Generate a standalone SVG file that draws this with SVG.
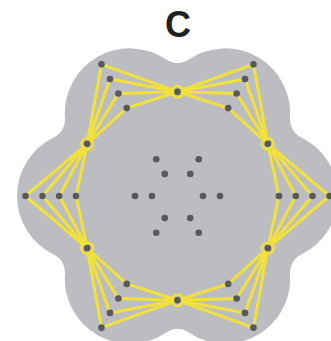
<svg xmlns="http://www.w3.org/2000/svg" width="331" height="341" viewBox="0 0 331 341">
<style>
.bg{fill:#BCBDC0}
.ln{fill:none;stroke:#F2E03B;stroke-width:3;stroke-linejoin:round}
.dot{fill:#58595B}
.ring{fill:none;stroke:#F2E03B;stroke-width:2.4}
.title{font-family:"Liberation Sans",Arial,sans-serif;font-weight:bold;font-size:36px;fill:#231F20}
</style>
<defs>
<circle id="d" r="3.3" class="dot"/>
<g id="hub"><circle r="5.8" class="ring"/><circle r="3.3" class="dot"/></g>
</defs>
<text class="title" x="178" y="36.5" text-anchor="middle">C</text>
<path id="shape" class="bg" d="M301.27,254.51 A65,65 0 0 0 301.27,137.49 A20,20 0 0 1 290.05,118.06 A65,65 0 0 0 188.72,59.56 A20,20 0 0 1 166.28,59.56 A65,65 0 0 0 64.95,118.06 A20,20 0 0 1 53.73,137.49 A65,65 0 0 0 53.73,254.51 A20,20 0 0 1 64.95,273.94 A65,65 0 0 0 166.28,332.44 A20,20 0 0 1 188.72,332.44 A65,65 0 0 0 290.05,273.94 A20,20 0 0 1 301.27,254.51 Z"/>
<g id="connectors">
<path class="ln" d="M329.5,196 L267.83,143.85 L253.5,64.36 L177.5,91.7 L101.5,64.36 L87.17,143.85 L25.5,196 L87.17,248.15 L101.5,327.64 L177.5,300.3 L253.5,327.64 L267.83,248.15 Z"/>
<path class="ln" d="M312.5,196 L267.83,143.85 L245,79.09 L177.5,91.7 L110,79.09 L87.17,143.85 L42.5,196 L87.17,248.15 L110,312.91 L177.5,300.3 L245,312.91 L267.83,248.15 Z"/>
<path class="ln" d="M295.8,196 L267.83,143.85 L236.65,93.55 L177.5,91.7 L118.35,93.55 L87.17,143.85 L59.2,196 L87.17,248.15 L118.35,298.45 L177.5,300.3 L236.65,298.45 L267.83,248.15 Z"/>
<path class="ln" d="M279,196 L267.83,143.85 L228.25,108.1 L177.5,91.7 L126.75,108.1 L87.17,143.85 L76,196 L87.17,248.15 L126.75,283.9 L177.5,300.3 L228.25,283.9 L267.83,248.15 Z"/>
</g>
<g id="outer-dots">
<g id="o1"><use href="#d" x="329.5" y="196"/><use href="#d" x="312.5" y="196"/><use href="#d" x="295.8" y="196"/><use href="#d" x="279" y="196"/></g>
<g id="o2"><use href="#d" x="253.5" y="64.36"/><use href="#d" x="245" y="79.09"/><use href="#d" x="236.65" y="93.55"/><use href="#d" x="228.25" y="108.1"/></g>
<g id="o3"><use href="#d" x="101.5" y="64.36"/><use href="#d" x="110" y="79.09"/><use href="#d" x="118.35" y="93.55"/><use href="#d" x="126.75" y="108.1"/></g>
<g id="o4"><use href="#d" x="25.5" y="196"/><use href="#d" x="42.5" y="196"/><use href="#d" x="59.2" y="196"/><use href="#d" x="76" y="196"/></g>
<g id="o5"><use href="#d" x="101.5" y="327.64"/><use href="#d" x="110" y="312.91"/><use href="#d" x="118.35" y="298.45"/><use href="#d" x="126.75" y="283.9"/></g>
<g id="o6"><use href="#d" x="253.5" y="327.64"/><use href="#d" x="245" y="312.91"/><use href="#d" x="236.65" y="298.45"/><use href="#d" x="228.25" y="283.9"/></g>
</g>
<g id="hubs">
<g id="h1"><use href="#hub" x="267.83" y="143.85"/></g>
<g id="h2"><use href="#hub" x="177.5" y="91.7"/></g>
<g id="h3"><use href="#hub" x="87.17" y="143.85"/></g>
<g id="h4"><use href="#hub" x="87.17" y="248.15"/></g>
<g id="h5"><use href="#hub" x="177.5" y="300.3"/></g>
<g id="h6"><use href="#hub" x="267.83" y="248.15"/></g>
</g>
<g id="inner-dots">
<use href="#d" x="203" y="196"/><use href="#d" x="190.25" y="173.92"/><use href="#d" x="164.75" y="173.92"/><use href="#d" x="152" y="196"/><use href="#d" x="164.75" y="218.08"/><use href="#d" x="190.25" y="218.08"/>
<use href="#d" x="220" y="196"/><use href="#d" x="198.75" y="159.19"/><use href="#d" x="156.25" y="159.19"/><use href="#d" x="135" y="196"/><use href="#d" x="156.25" y="232.81"/><use href="#d" x="198.75" y="232.81"/>
</g>
</svg>
